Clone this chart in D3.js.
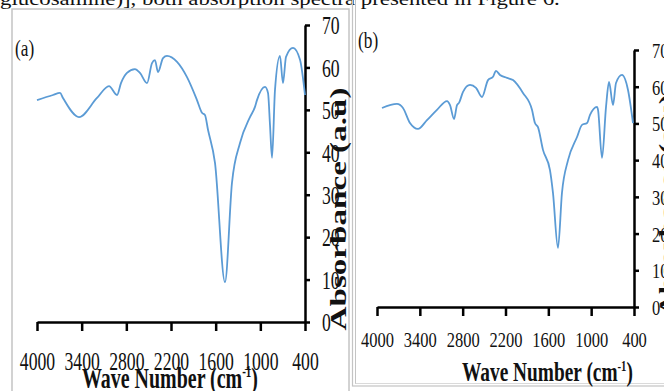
<!DOCTYPE html>
<html><head><meta charset="utf-8">
<script src="https://cdn.jsdelivr.net/npm/d3@7"></script>
<style>
html,body{margin:0;padding:0;background:#fff;overflow:hidden}
svg{display:block}
text{font-family:"Liberation Serif","Times New Roman",serif;fill:#111}
</style></head>
<body>
<svg id="c" width="664" height="391"></svg>
<script>
// ---------- data ----------
const xTicks = [4000, 3400, 2800, 2200, 1600, 1000, 400];
const yTicks = [0, 10, 20, 30, 40, 50, 60, 70];
const panelLabels = ["(a)", "(b)"];
const xTitle = "Wave Number (cm";
const yTitle = "Absorbance (a.u)";
const topText = "glucosamine)], both absorption spectra presented in Figure 6.";

const wnA = [4000,3785,3691,3651,3436,3194,3033,2925,2872,2791,2684,2617,2522,2455,2415,2375,2307,2254,2119,1985,1851,1784,1744,1703,1609,1475,1381,1273,1139,1072,1045,937,897,870,843,803,736,696,655,561,467,400];
const absA = [52.3,53.5,54.0,52.8,48.3,52.8,55.6,53.5,56.3,58.7,59.6,58.7,56.3,61.0,61.7,58.9,62.2,62.7,61.3,57.7,52.3,49.3,48.8,45.3,37.5,9.4,32.8,42.2,48.3,50.7,52.3,55.4,54.0,46.4,38.7,54.7,62.7,56.3,62.5,64.6,61.8,53.5];

const wnB = [3930,3720,3636,3538,3426,3300,3160,3019,2977,2921,2879,2851,2795,2697,2613,2529,2445,2375,2333,2277,2179,2095,1955,1829,1787,1745,1675,1577,1535,1465,1409,1324,1198,1128,1058,1016,918,904,848,792,750,694,652,568,484,414];
const absB = [54.2,55.3,54.2,50.1,48.5,50.9,53.7,56.1,55.0,51.2,55.0,55.6,58.6,60.5,59.7,57.2,61.8,62.7,64.3,63.2,62.4,61.8,58.3,53.7,50.1,49.0,42.8,37.3,31.1,16.1,31.1,40.0,46.3,49.6,50.1,52.3,54.5,53.7,40.6,54.5,61.3,55.0,61.0,63.2,59.1,50.1];

// ---------- drawing ----------
const svg = d3.select("#c");
const lineColor = "#5b9bd5";

// clipped paper text at very top
const tt = svg.append("text").attr("x", 0).attr("y", 5)
  .style("font-size", "19px").text(topText);
{
  const w = tt.node().getComputedTextLength();
  tt.attr("transform", `scale(${560 / w},1)`);
}

// frames
svg.append("rect").attr("x", 12).attr("y", 9).attr("width", 337).attr("height", 420)
  .attr("fill", "none").attr("stroke", "#c4c4c4").attr("stroke-width", 1.5);
svg.append("rect").attr("x", 352.5).attr("y", -10).attr("width", 400).attr("height", 396)
  .attr("fill", "none").attr("stroke", "#c4c4c4").attr("stroke-width", 1.2);
svg.append("line").attr("x1", 355.5).attr("x2", 355.5).attr("y1", -10).attr("y2", 384)
  .attr("stroke", "#c4c4c4").attr("stroke-width", 1);
svg.append("line").attr("x1", 355.5).attr("x2", 760).attr("y1", 383.5).attr("y2", 383.5)
  .attr("stroke", "#dadada").attr("stroke-width", 1);

const panels = [
  { wn: wnA, ab: absA, x0: 37, x1: 305, y0: 322, y1: 25, fs: 26, sx: 0.68, xlabOff: 48, ylabOff: 17,
    label: panelLabels[0], labX: 15, labY: 56, labFs: 24, labSx: 0.72,
    xt: { x: 82, y: 388, w: 176, fs: 30 }, yt: { x: 346, y: 209, len: 243, fs: 30 } },
  { wn: wnB, ab: absB, x0: 377, x1: 634, y0: 307, y1: 50, fs: 22, sx: 0.75, xlabOff: 40, ylabOff: 18,
    label: panelLabels[1], labX: 358, labY: 48, labFs: 24, labSx: 0.72,
    xt: { x: 462, y: 381, w: 171, fs: 27 }, yt: { x: 675, y: 205, len: 222, fs: 30 } }
];

panels.forEach(p => {
  const x = d3.scaleLinear().domain([4000, 400]).range([p.x0, p.x1]);
  const y = d3.scaleLinear().domain([0, 70]).range([p.y0, p.y1]);
  const g = svg.append("g");

  // y-axis title (drawn first so ticks overlap it)
  const yt = g.append("text").style("font-size", p.yt.fs + "px").style("font-weight", "bold")
    .attr("text-anchor", "middle").text(yTitle);
  {
    const w = yt.node().getComputedTextLength();
    yt.attr("transform", `translate(${p.yt.x},${p.yt.y}) rotate(-90) scale(${p.yt.len / w},0.8)`);
  }

  // x axis
  const ax = g.append("g").attr("transform", `translate(0,${p.y0})`)
    .call(d3.axisBottom(x).tickValues(xTicks).tickSize(9).tickSizeOuter(0).tickFormat(d3.format("d")));
  ax.select(".domain").attr("stroke", "#000").attr("stroke-width", 2.5);
  ax.selectAll(".tick line").attr("stroke", "#000").attr("stroke-width", 2.5);
  ax.selectAll(".tick text").attr("y", p.xlabOff).attr("dy", 0)
    .attr("transform", `scale(${p.sx},1)`)
    .style("font-size", p.fs + "px").style("font-family", "Liberation Serif").attr("fill", "#111");

  // y axis (right)
  const ay = g.append("g").attr("transform", `translate(${p.x1},0)`)
    .call(d3.axisRight(y).tickValues(yTicks).tickSize(5).tickSizeOuter(0));
  ay.select(".domain").attr("stroke", "#000").attr("stroke-width", 2.5);
  ay.selectAll(".tick line").attr("stroke", "#000").attr("stroke-width", 2.5);
  ay.selectAll(".tick text").attr("x", 0).attr("dy", "0.34em")
    .attr("transform", `translate(${p.ylabOff},0) scale(${p.sx},1)`)
    .style("font-size", p.fs + "px").style("font-family", "Liberation Serif").attr("fill", "#111");

  // spectrum
  const pts = p.wn.map((w, i) => [w, p.ab[i]]);
  g.append("path").datum(pts)
    .attr("fill", "none").attr("stroke", lineColor).attr("stroke-width", 1.8)
    .attr("stroke-linejoin", "round")
    .attr("d", d3.line().x(d => x(d[0])).y(d => y(d[1])).curve(d3.curveMonotoneX));

  // panel label
  g.append("text").attr("transform", `translate(${p.labX},${p.labY}) scale(${p.labSx},1)`)
    .style("font-size", p.labFs + "px").attr("fill", "#333").text(p.label);

  // x title
  const xt = g.append("text").style("font-size", p.xt.fs + "px").style("font-weight", "bold");
  xt.append("tspan").text(xTitle);
  xt.append("tspan").attr("dy", -p.xt.fs * 0.38).style("font-size", (p.xt.fs * 0.55) + "px").text("-1");
  xt.append("tspan").attr("dy", p.xt.fs * 0.38).text(")");
  {
    const w = xt.node().getComputedTextLength();
    xt.attr("transform", `translate(${p.xt.x},${p.xt.y}) scale(${p.xt.w / w},1)`);
  }
});
</script>
</body></html>
